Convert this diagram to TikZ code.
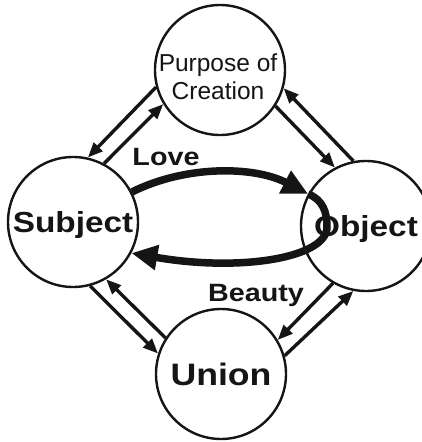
\documentclass[tikz,border=0pt]{standalone}
\usepackage{fontspec}
\setmainfont{Liberation Sans}
\newfontfamily\widesans[FakeStretch=1.15]{Liberation Sans}
\usetikzlibrary{arrows.meta}
\definecolor{ink}{HTML}{151515}
\newcommand{\rolefont}{\widesans\bfseries\fontsize{29}{31}\selectfont}
\newcommand{\unionfont}{\widesans\bfseries\fontsize{31}{33}\selectfont}
\newcommand{\flowfont}{\widesans\bfseries\fontsize{25}{27}\selectfont}
\newcommand{\aimfont}{\fontsize{24.5}{28}\selectfont}
\tikzset{
  circlebox/.style={draw=ink, circle, line width=2.4pt, minimum size=130pt, inner sep=0pt, fill=white, text=ink, text depth=0pt},
  aimtext/.style={text=ink, align=center, inner sep=0pt, font=\aimfont},
  wordlabel/.style={text=ink, inner sep=0pt, anchor=base, font=\flowfont},
  pairarrow/.style={-{Triangle[length=15pt,width=12pt]}, line width=3.4pt, draw=ink},
  loveflow/.style={-{Triangle[length=26pt,width=24pt]}, line width=7.5pt, draw=ink}
}

\begin{document}
\begin{tikzpicture}[x=1pt, y=-1pt]
  \useasboundingbox (0,0) rectangle (422,442);
  \node[circlebox] (purpose) at (220,70) {};
  \node[aimtext] (purposetxt) at (218,77) {Purpose of\\Creation};
  \node[circlebox, font=\rolefont] (subject) at (73,222) {Subject};
  \node[circlebox, font=\rolefont] (object) at (366,226) {Object};
  \node[circlebox, font=\unionfont] (union) at (221,374) {Union};
  % paired arrows between neighbours
  \draw[pairarrow] (purpose.195) -- (subject.77);
  \draw[pairarrow] (subject.62) -- (purpose.211);
  \draw[pairarrow] (purpose.-33) -- (object.118);
  \draw[pairarrow] (object.101) -- (purpose.-16);
  \draw[pairarrow] (subject.-75) -- (union.162);
  \draw[pairarrow] (union.147) -- (subject.-60);
  \draw[pairarrow] (object.-120) -- (union.31);
  \draw[pairarrow] (union.16) -- (object.-101);
  % love goes out, beauty comes back
  \coordinate (turn) at (327,227);
  \draw[loveflow] (subject.27) .. controls (186,165) and (254,166) .. (object.151);
  \draw[loveflow] (object.151) .. controls (323,200) and (327,212) .. (turn)
    .. controls (327,258) and (240,272) .. (subject.-28);
  \node[wordlabel] (love) at (166,165) {Love};
  \node[wordlabel] (beauty) at (256,301) {Beauty};
\end{tikzpicture}
\end{document}
